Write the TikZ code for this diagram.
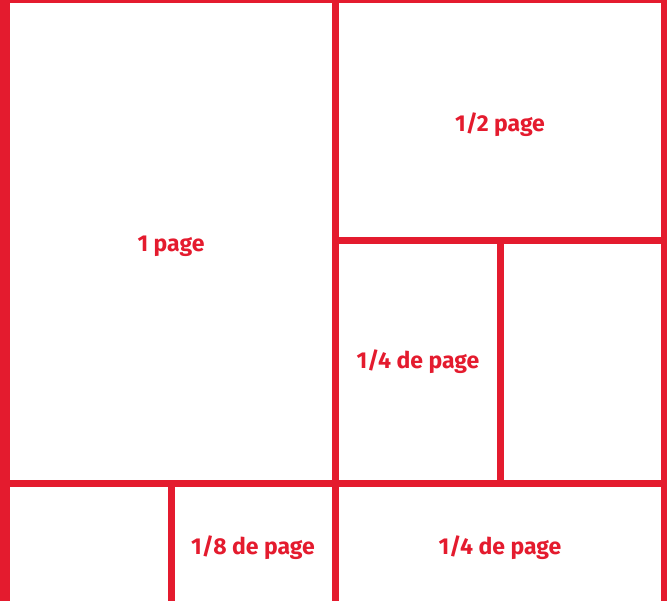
\documentclass[tikz,border=0pt]{standalone}
\usepackage{fontspec}
\setmainfont{Fira Sans}
\usepackage{xcolor}
\definecolor{adred}{HTML}{E41B2E}

\begin{document}
\begin{tikzpicture}[x=1pt, y=-1pt, font=\fontsize{23}{26}\selectfont\bfseries]
  \useasboundingbox (0,0) rectangle (667,601);

  % outer frame (no bottom edge)
  \fill[adred] (0,0) rectangle (10,601);
  \fill[adred] (0,0) rectangle (667,3);
  \fill[adred] (661,0) rectangle (667,601);

  % main splits
  \fill[adred] (332,0) rectangle (339,601);
  \fill[adred] (0,480) rectangle (667,487);

  % right column splits
  \fill[adred] (339,237) rectangle (661,244);
  \fill[adred] (497,244) rectangle (504,480);

  % bottom left split
  \fill[adred] (168,487) rectangle (175,601);

  % labels
  \node[adred] (full)    at (171,246) {1 page};
  \node[adred] (half)    at (500,125) {1/2 page};
  \node[adred] (quarter) at (418,362) {1/4 de page};
  \node[adred] (eighth)  at (253,548) {1/8 de page};
  \node[adred] (quarterb) at (500,548) {1/4 de page};
\end{tikzpicture}
\end{document}
